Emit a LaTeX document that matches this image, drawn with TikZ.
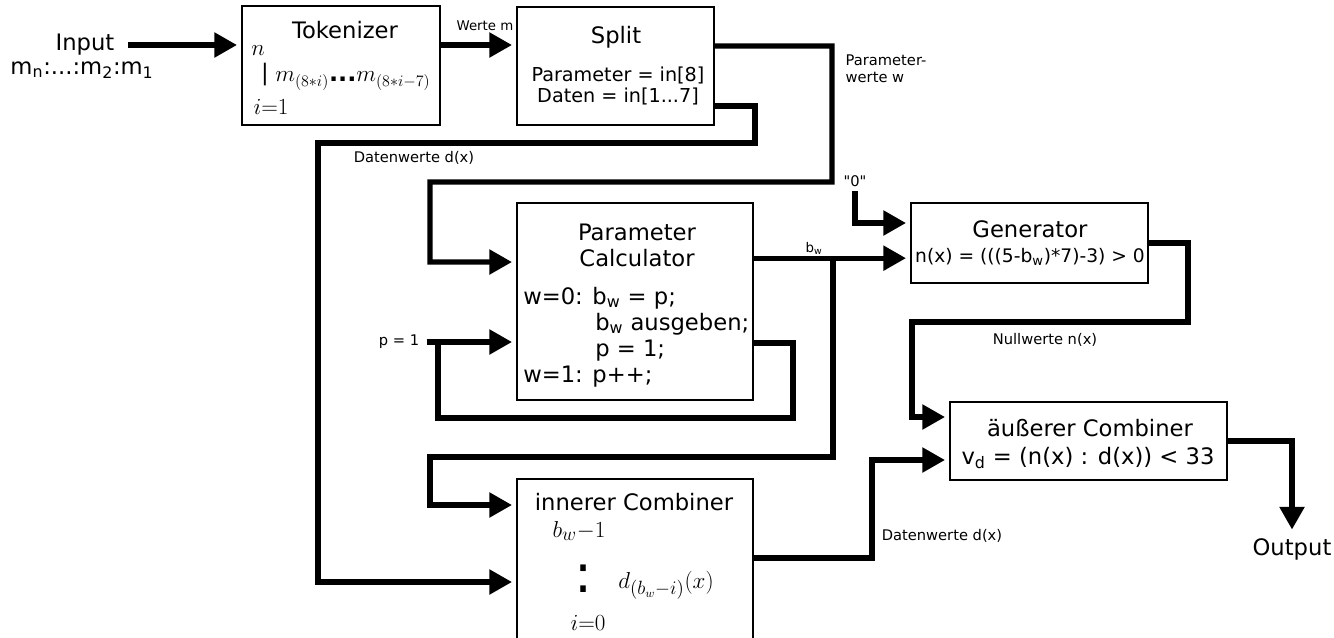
\documentclass[tikz,border=0pt]{standalone}
\usepackage{fontspec}
\setmainfont{DejaVu Sans}
\newfontfamily\rawfont{DejaVu Sans}
\usepackage{amsmath}
\usetikzlibrary{arrows.meta,positioning}

\begin{document}
\begin{tikzpicture}[y=-0.75pt,x=0.75pt,
	box/.style={draw, line width=1.5pt, inner sep=0pt},
	flow/.style={line width=4pt, -{Triangle[length=17pt,width=18pt]}, shorten >=3pt},
	wire/.style={line width=4pt},
	titletext/.style={font=\fontsize{17}{19.5}\selectfont},
	bodytext/.style={font=\fontsize{14.4}{16}\selectfont},
	smalltext/.style={font=\fontsize{11}{13}\selectfont},
	minitext/.style={font=\fontsize{10}{12}\selectfont},
	mathbig/.style={font=\fontsize{18}{20}\selectfont},
	mathinner/.style={font=\fontsize{19}{21}\selectfont}]
	\useasboundingbox (0,0) rectangle (1334,637);

	% blocks
	\node[box, minimum width=148.5pt, minimum height=89.25pt] (tok) at (341,65.5) {};
	\node[box, minimum width=147.75pt, minimum height=88.5pt] (split) at (615.5,66) {};
	\node[box, minimum width=177pt, minimum height=147.75pt] (calc) at (635,301.5) {};
	\node[box, minimum width=177.75pt, minimum height=60pt] (gen) at (1029.5,243) {};
	\node[box, minimum width=207.75pt, minimum height=58.5pt] (outer) at (1088.5,441) {};
	\node[box, minimum width=177pt, minimum height=124.5pt] (inner) at (635,562) {};

	% input
	\node[titletext] (input) at (85,45) {Input};
	\node[titletext] (stream) at (82,70) {m\textsubscript{n}:...:m\textsubscript{2}:m\textsubscript{1}};
	\coordinate (instart) at (128,45);
	\draw[flow] (instart) -- (tok.west |- instart);

	\node[titletext] (toktitle) at (345,30) {Tokenizer};
	\node[mathbig] (tokn) at (258,51) {$n$};
	\node[titletext] (tokbar) at (265,75) {|};
	\node[mathbig, anchor=west, inner sep=0pt] (tokm) at (275,81) {$m_{(8\ast i)}$\textbf{...}$m_{(8\ast i-7)}$};
	\node[mathbig] (toki) at (271,107) {$i{=}1$};

	\draw[flow] (tok.east |- instart) -- (split.west |- instart);
	\node[minitext] (wertem) at (485,26) {Werte m};

	\node[titletext] (splittitle) at (616,37) {Split};
	\node[bodytext, align=center] (splitrule) at (618,86) {Parameter = in[8]\\Daten = in[1...7]};

	% parameter values
	\draw[flow] ([yshift=15pt]split.east) -| (832,182) -| (430,262) -- ([yshift=29.6pt]calc.west);
	\node[smalltext, align=left, anchor=west] (paramw) at (841,69) {Parameter-\\werte w};

	% data values
	\draw[flow] ([yshift=-30pt]split.east) -| (755,143) -| (318,582) -- ([yshift=-15pt]inner.west);
	\node[smalltext] (datw) at (414,158) {Datenwerte d(x)};

	\node[titletext, align=center] (calctitle) at (637,245) {Parameter\\Calculator};
	\node[titletext, align=left, anchor=north west, inner sep=0pt] (calcrule) at (523,287) {w=0: b\textsubscript{w} = p;\\\hspace*{54pt}b\textsubscript{w} ausgeben;\\\hspace*{54pt}p = 1;\\w=1: p++;};

	\node[smalltext] (pone) at (399,342) {p = 1};
	\draw[flow] ([xshift=2pt]pone.east) -- (calc.west |- pone);
	\coordinate (loopend) at (438,342);
	\draw[wire] ([yshift=-31pt]calc.east) -| (793,418) -| (loopend);

	% b_w
	\coordinate (bw) at ([yshift=32.5pt]calc.east);
	\draw[flow] (bw) -- (gen.west |- bw);
	\node[minitext] (bwlabel) at (814,248) {b\textsubscript{w}};
	\coordinate (bwsplit) at ([xshift=59.25pt]bw);
	\draw[flow] (bwsplit) |- (430,457) |- ([yshift=42.75pt]inner.west);

	\node[smalltext] (zero) at (855,181) {\rawfont"0"};
	\draw[flow] (zero.south) |- ([yshift=15pt]gen.west);

	\node[titletext] (gentitle) at (1030,229) {Generator};
	\node[font=\fontsize{14}{16}\selectfont] (genrule) at (1030,257) {n(x) = (((5-b\textsubscript{w})*7)-3) > 0};

	% zero values
	\draw[flow] (gen.east) -| (1188,322) -| (912,417) -- ([yshift=18pt]outer.west);
	\node[smalltext] (nullw) at (1045,340) {Nullwerte n(x)};

	\node[titletext] (innertitle) at (634,502) {innerer Combiner};
	\node[mathinner] (innerb) at (579,531) {$b_w{-}1$};
	\node[font=\fontsize{40}{40}\selectfont] (innerdots) at (583,579) {:};
	\node[mathinner] (innerd) at (666,585) {$d_{(b_w-i)}(x)$};
	\node[mathinner] (inneri) at (588,623) {$i{=}0$};

	\draw[flow] ([yshift=3pt]inner.east) -| (872,460) -- ([yshift=-14.25pt]outer.west);
	\node[smalltext] (datw2) at (942,536) {Datenwerte d(x)};

	\node[titletext] (outertitle) at (1090,428) {äußerer Combiner};
	\node[titletext] (outerrule) at (1088,458) {v\textsubscript{d} = (n(x) : d(x)) < 33};

	% output
	\node[titletext] (output) at (1292,549) {Output};
	\draw[flow] (outer.east) -| (output.north);
\end{tikzpicture}
\end{document}
